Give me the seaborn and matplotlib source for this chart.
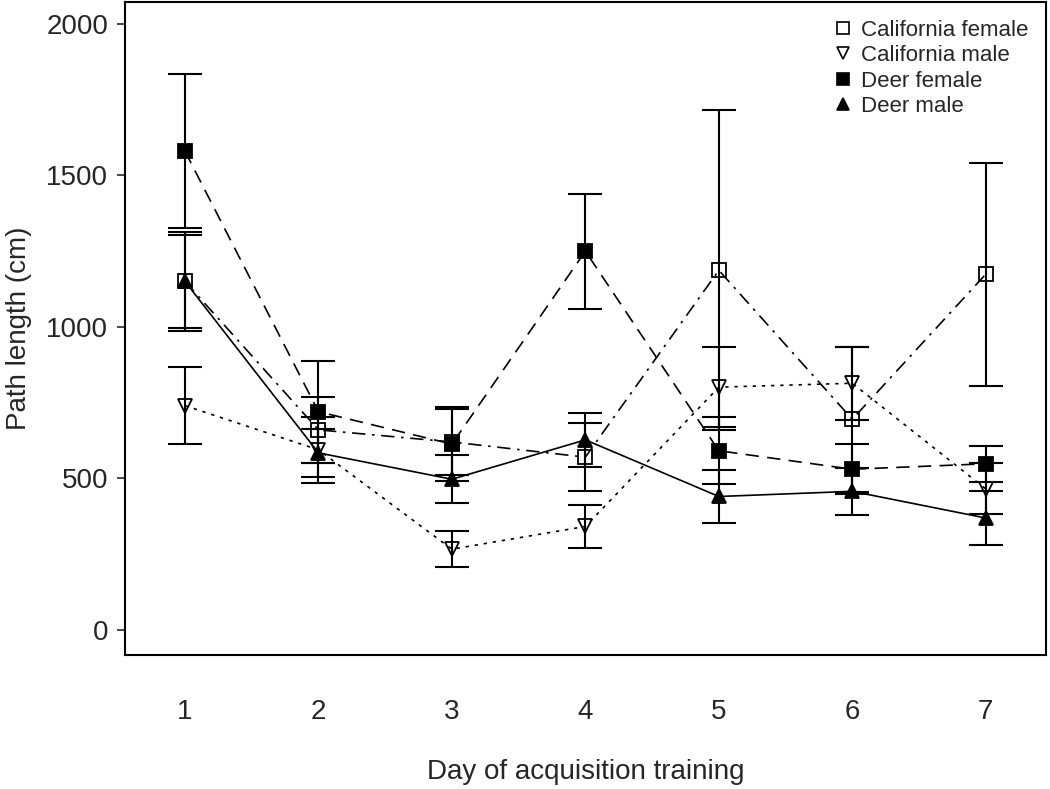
import seaborn as sns
import numpy as np
import matplotlib.pyplot as plt
from matplotlib.lines import Line2D

days = [1, 2, 3, 4, 5, 6, 7]
groups = ["California female", "California male", "Deer female", "Deer male"]

cal_f_mean = [1150, 660, 620, 570, 1187, 695, 1174]
cal_f_err = [155, 110, 110, 112, 528, 240, 368]
cal_m_mean = [740, 594, 266, 341, 801, 814, 465]
cal_m_err = [128, 109, 60, 70, 132, 120, 84]
deer_f_mean = [1580, 720, 613, 1250, 591, 530, 548]
deer_f_err = [255, 168, 122, 190, 110, 83, 60]
deer_m_mean = [1150, 584, 497, 627, 440, 457, 369]
deer_m_err = [165, 80, 80, 90, 87, 78, 90]

means = [cal_f_mean, cal_m_mean, deer_f_mean, deer_m_mean]
errs = [cal_f_err, cal_m_err, deer_f_err, deer_m_err]
markers = ["s", "v", "s", "^"]
fills = ["none", "none", "black", "black"]
dash_styles = [(8, 4, 1.5, 4), (2, 3.5), (8, 5), ""]

sns.set_style("white")
plt.rcParams["font.family"] = ["Liberation Sans", "DejaVu Sans"]

fig = plt.figure(figsize=(10.5, 7.89), dpi=100)
ax = fig.add_axes([0.119, 0.170, 0.877, 0.8275])

for name, m, e, mk, fc, ds in zip(groups, means, errs, markers, fills, dash_styles):
    ax.errorbar(days, m, yerr=e, fmt="none", ecolor="black", elinewidth=1.5,
                capsize=12, capthick=1.5, zorder=2)
    sns.lineplot(x=days, y=m, ax=ax, color="black", linewidth=1.2,
                 dashes=ds if ds else True, zorder=3)
    ax.plot(days, m, linestyle="none", marker=mk, markersize=10.5 if mk != "s" else 10,
            markerfacecolor=fc, markeredgecolor="black", markeredgewidth=1.3, zorder=4)

ax.set_xlim(0.55, 7.45)
ax.set_ylim(-83, 2073)
ax.set_xticks(days)
ax.set_yticks([0, 500, 1000, 1500, 2000])
ax.tick_params(axis="y", which="both", left=True, length=6, width=1.2, direction="out",
               labelsize=20, pad=6)
ax.tick_params(axis="x", length=0, labelsize=20, pad=32)
for s in ax.spines.values():
    s.set_linewidth(1.5)
    s.set_color("black")

ax.set_xlabel("Day of acquisition training", fontsize=20, labelpad=24)
ax.set_ylabel("Path length (cm)", fontsize=20, labelpad=10)

handles = [Line2D([], [], linestyle="none", marker=mk, markersize=8 if mk == "s" else 9,
                  markerfacecolor=fc, markeredgecolor="black", markeredgewidth=1.2)
           for mk, fc in zip(markers, fills)]
ax.legend(handles, groups, loc="upper right", frameon=False, fontsize=16,
          handlelength=1.0, handletextpad=0.3, labelspacing=0.2, borderaxespad=0.4)

fig.savefig("out.png", dpi=100)
